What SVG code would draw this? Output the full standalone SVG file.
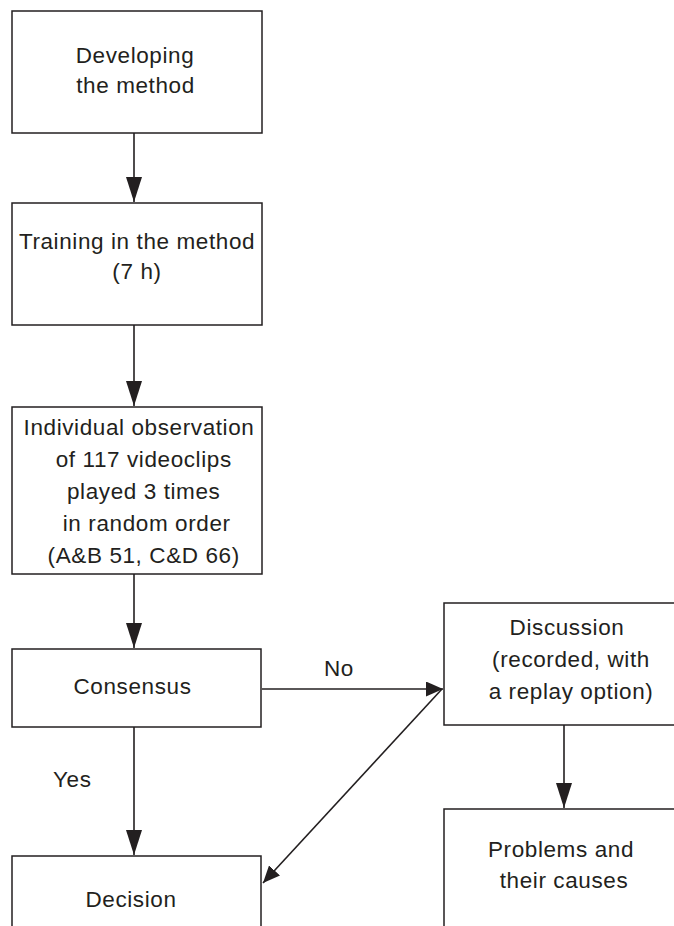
<svg xmlns="http://www.w3.org/2000/svg" width="674" height="926" viewBox="0 0 674 926">
<style>
.box{fill:#fff;stroke:#231f20;stroke-width:1.5}
.t{font-family:"Liberation Sans",Arial,sans-serif;font-size:22.5px;letter-spacing:0.6px;fill:#231f20;text-anchor:middle}
.lbl{font-family:"Liberation Sans",Arial,sans-serif;font-size:22.5px;letter-spacing:0.6px;fill:#231f20}
.c{stroke:#231f20;stroke-width:1.6;fill:none}
</style>
<defs>
<marker id="big" markerUnits="userSpaceOnUse" markerWidth="26" markerHeight="16" refX="25" refY="8" orient="auto"><path d="M0,0 L25,8 L0,16 z" fill="#231f20"/></marker>
<marker id="small" markerUnits="userSpaceOnUse" markerWidth="18" markerHeight="15" refX="17" refY="7.5" orient="auto"><path d="M0,0 L17,7.5 L0,15 z" fill="#231f20"/></marker>
</defs>
<rect width="674" height="926" fill="#fff"/>
<g id="connectors">
<line class="c" x1="134" y1="133" x2="134" y2="202" marker-end="url(#big)"/>
<line class="c" x1="134" y1="325" x2="134" y2="406" marker-end="url(#big)"/>
<line class="c" x1="134" y1="574" x2="134" y2="648" marker-end="url(#big)"/>
<line class="c" x1="134" y1="727" x2="134" y2="855" marker-end="url(#big)"/>
<line class="c" x1="262" y1="689" x2="443" y2="689" marker-end="url(#small)"/>
<line class="c" x1="442" y1="689" x2="263" y2="883" marker-end="url(#small)"/>
<line class="c" x1="564" y1="725" x2="564" y2="808" marker-end="url(#big)"/>
<text class="lbl" x="324" y="676">No</text>
<text class="lbl" x="53" y="787">Yes</text>
</g>
<g id="developing">
<rect class="box" x="12" y="11" width="250" height="122"/>
<text class="t" x="135" y="63">Developing</text>
<text class="t" x="135.5" y="93">the method</text>
</g>
<g id="training">
<rect class="box" x="12" y="203" width="250" height="122"/>
<text class="t" x="137" y="249">Training in the method</text>
<text class="t" x="137" y="279">(7 h)</text>
</g>
<g id="observation">
<rect class="box" x="12" y="407" width="250" height="167"/>
<text class="t" x="139" y="435">Individual observation</text>
<text class="t" x="143.7" y="467">of 117 videoclips</text>
<text class="t" x="143.7" y="499">played 3 times</text>
<text class="t" x="146.7" y="531">in random order</text>
<text class="t" x="143.7" y="563">(A&amp;B 51, C&amp;D 66)</text>
</g>
<g id="consensus">
<rect class="box" x="12" y="649" width="249" height="78"/>
<text class="t" x="132.5" y="694">Consensus</text>
</g>
<g id="decision">
<rect class="box" x="12" y="856" width="249" height="100"/>
<text class="t" x="131" y="907">Decision</text>
</g>
<g id="discussion">
<rect class="box" x="444" y="603" width="260" height="122"/>
<text class="t" x="567" y="635">Discussion</text>
<text class="t" x="571" y="667">(recorded, with</text>
<text class="t" x="571" y="699">a replay option)</text>
</g>
<g id="problems">
<rect class="box" x="444" y="809" width="260" height="150"/>
<text class="t" x="561" y="857">Problems and</text>
<text class="t" x="564" y="888">their causes</text>
</g>
</svg>
